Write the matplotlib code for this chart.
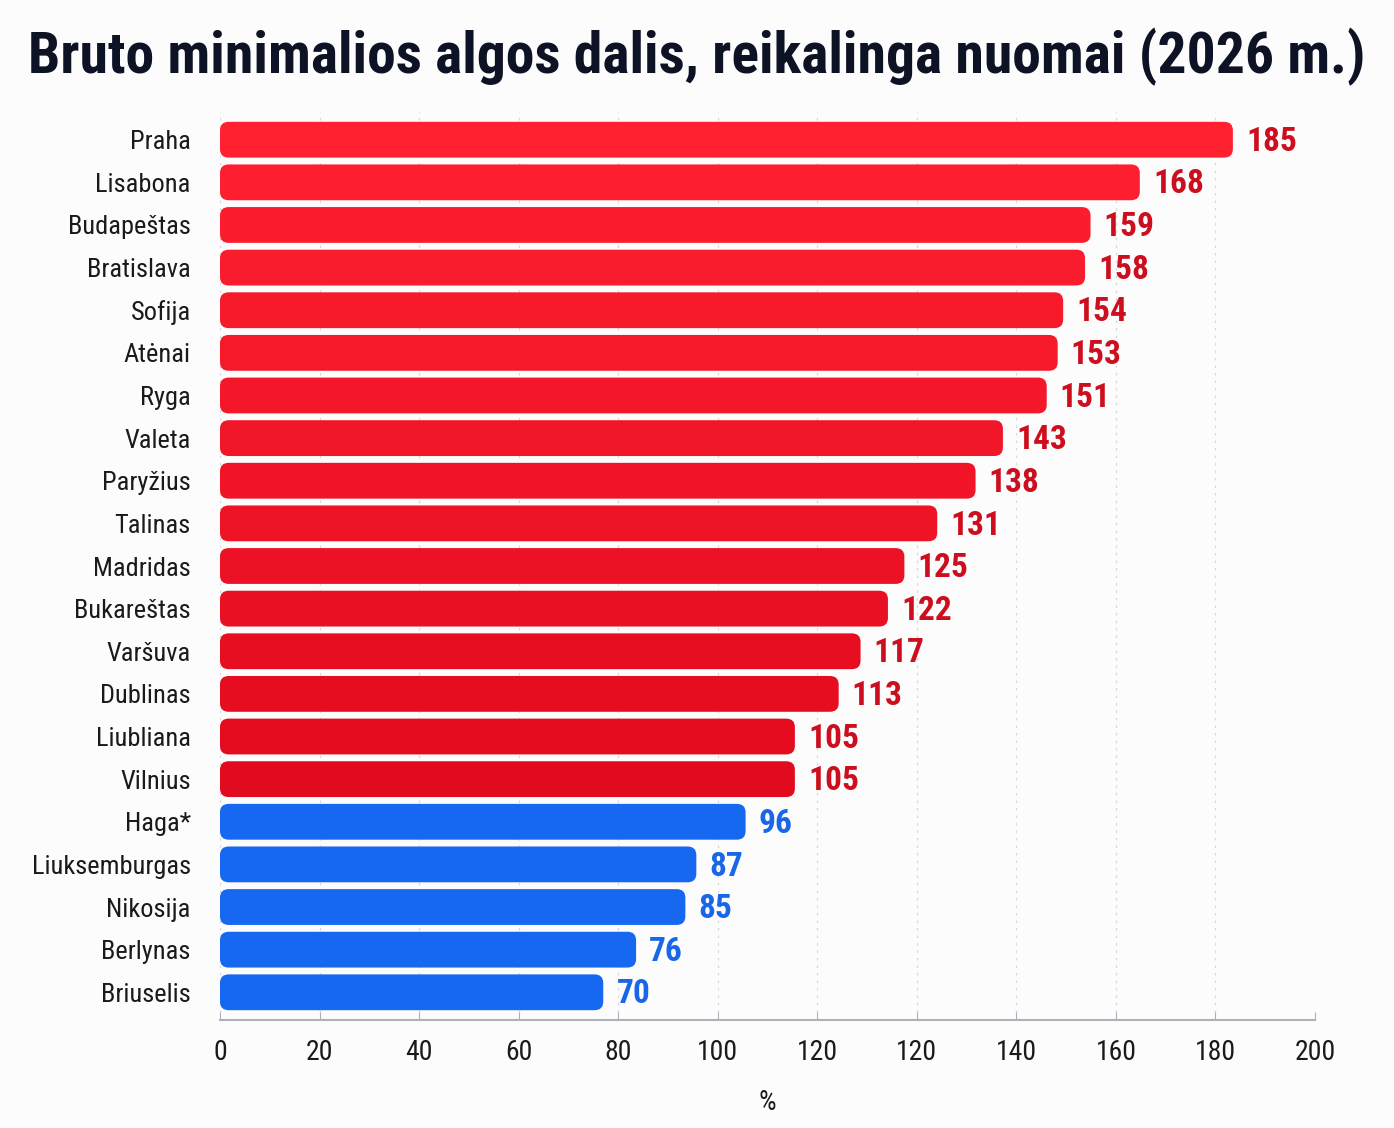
import numpy as np
import matplotlib.pyplot as plt
from matplotlib.patches import FancyBboxPatch
from matplotlib.colors import to_rgb

cities = ["Praha", "Lisabona", "Budapeštas", "Bratislava", "Sofija", "Atėnai",
          "Ryga", "Valeta", "Paryžius", "Talinas", "Madridas", "Bukareštas",
          "Varšuva", "Dublinas", "Liubliana", "Vilnius", "Haga*",
          "Liuksemburgas", "Nikosija", "Berlynas", "Briuselis"]
values = [185, 168, 159, 158, 154, 153, 151, 143, 138, 131, 125, 122,
          117, 113, 105, 105, 96, 87, 85, 76, 70]
# the reference axis shows these labels at evenly spaced ticks
tick_labels = ["0", "20", "40", "60", "80", "100", "120", "120", "140", "160", "180", "200"]

FONT = ['Roboto Condensed', 'DejaVu Sans']
plt.rcParams['font.family'] = FONT

RED_TOP = to_rgb("#FF2030")
RED_BOT = to_rgb("#E20A1E")
BLUE = "#1668F0"
RED_TXT = "#CC0E1E"
BLUE_TXT = "#1A66E8"

fig = plt.figure(figsize=(13.94, 11.28), dpi=100, facecolor="#FCFCFC")
ax = fig.add_axes([220 / 1394, 1 - 1020 / 1128, 1095 / 1394, (1020 - 112) / 1128])
ax.set_facecolor("#FCFCFC")

n = len(cities)
ypos = np.arange(n)
n_red = sum(1 for v in values if v > 100)

ax.set_xlim(0, 200)
ax.set_ylim(n - 0.35, -0.65)

bar_h = 0.84
rx = 1.6                       # rounding radius in x-units
aspect = 0.2 / rx

for i, (c, v) in enumerate(zip(cities, values)):
    if v > 100:
        t = i / max(n_red - 1, 1)
        col = tuple(RED_TOP[k] * (1 - t) + RED_BOT[k] * t for k in range(3))
        tcol = RED_TXT
    else:
        col = BLUE
        tcol = BLUE_TXT
    p = FancyBboxPatch((0, i - bar_h / 2), v, bar_h,
                       boxstyle=f"round,pad=0,rounding_size={rx}",
                       mutation_aspect=aspect, facecolor=col, edgecolor="none",
                       zorder=3)
    ax.add_patch(p)
    ax.text(v + 2.4, i + 0.05, str(v), va="center", ha="left", fontsize=24,
            fontweight="bold", color=tcol, zorder=4)

ax.set_yticks(ypos)
ax.set_yticklabels(cities, fontsize=19, color="#1a1a1a")
ax.tick_params(axis="y", length=0, pad=21)

ticks = np.linspace(0, 200, len(tick_labels))
ax.set_xticks(ticks)
ax.set_xticklabels(tick_labels, fontsize=20, color="#1a1a1a")
ax.tick_params(axis="x", length=6, color="#b0b0b8", pad=14, direction="in")
ax.xaxis.grid(True, linestyle=(0, (2, 4)), color="#d8d8dc", linewidth=0.9, zorder=0)

for s in ["top", "right", "left"]:
    ax.spines[s].set_visible(False)
ax.spines["bottom"].set_color("#b0b0b8")
ax.spines["bottom"].set_linewidth(1.5)

ax.set_xlabel("%", fontsize=20, color="#1a1a1a", labelpad=16)

fig.text(0.5, 1 - 57 / 1128, "Bruto minimalios algos dalis, reikalinga nuomai (2026 m.)",
         ha="center", va="center", fontsize=41.5, fontweight="bold", color="#0d1224")

fig.savefig("out.png", dpi=100, facecolor=fig.get_facecolor())
